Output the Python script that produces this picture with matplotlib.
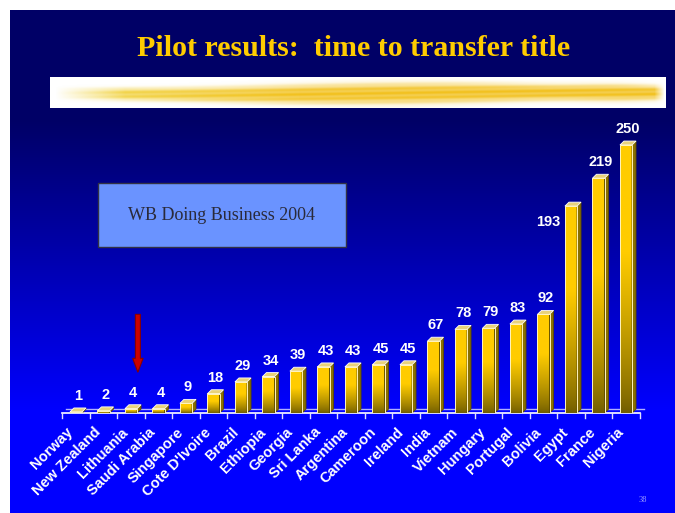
import numpy as np
import matplotlib
matplotlib.use("Agg")
import matplotlib.pyplot as plt
from matplotlib.patches import Rectangle, Polygon, FancyArrow

# data (days to transfer title)
countries = ["Norway", "New Zealand", "Lithuania", "Saudi Arabia", "Singapore",
             "Cote D'Ivoire", "Brazil", "Ethiopia", "Georgia", "Sri Lanka",
             "Argentina", "Cameroon", "Ireland", "India", "Vietnam", "Hungary",
             "Portugal", "Bolivia", "Egypt", "France", "Nigeria"]
days = [1, 2, 4, 4, 9, 18, 29, 34, 39, 43, 43, 45, 45, 67, 78, 79, 83, 92, 193, 219, 250]

title = "Pilot results:  time to transfer title"
box_text = "WB Doing Business 2004"
page_no = "38"

W, H = 675, 513
fig = plt.figure(figsize=(W / 100, H / 100), dpi=100)
fig.patch.set_facecolor("white")

# ---- slide background (pixel coords) ----
bg = fig.add_axes([0, 0, 1, 1])
bg.set_xlim(0, W)
bg.set_ylim(H, 0)
bg.axis("off")

rows = np.arange(10, H)
top_c = np.array([0, 0, 0x66]) / 255
bot_c = np.array([0, 0, 0xFF]) / 255
t = np.clip((rows - 120) / (410 - 120), 0, 1)[:, None]
grad = (top_c + (bot_c - top_c) * t)[:, None, :]
bg.imshow(grad, extent=(10, W, H, 10), aspect="auto", zorder=0)

bg.text(354, 48, title, color="#FFCC00", fontsize=21.5, fontweight="bold",
        family="Liberation Serif", ha="center", va="center", zorder=3)

# brush stroke under the title
bg.add_patch(Rectangle((50, 77), 616, 31, facecolor="white", edgecolor="none", zorder=1))
bx = np.arange(616)
by = np.arange(31)[:, None]
cy = 16 + 1.0 * np.sin(bx / 110.0)
thick = 5.5 + 4.5 * np.exp(-((bx - 340) / 180.0) ** 2) + 1.5 * np.exp(-((bx - 570) / 50.0) ** 2)
fade = np.clip((bx - 5) / 70.0, 0, 1) * np.clip((614 - bx) / 10.0, 0, 1)
alpha = np.exp(-np.abs((by - cy) / thick) ** 3) * fade
alpha *= 0.9 + 0.1 * np.sin(by * 1.3 + bx / 53.0)
brush = np.zeros((31, 616, 4))
brush[..., 0] = 0.95
brush[..., 1] = 0.76 + 0.08 * np.clip((250 - bx) / 200.0, 0, 1)
brush[..., 2] = 0.12 + 0.18 * np.clip((250 - bx) / 200.0, 0, 1)
brush[..., 3] = np.clip(alpha, 0, 1)
bg.imshow(brush, extent=(50, 666, 108, 77), aspect="auto", zorder=2, interpolation="bilinear")

# source box
bg.add_patch(Rectangle((98, 183), 248, 64, facecolor="#6A93FF", edgecolor="#333344",
                       lw=1, zorder=3))
bg.text(222, 215, box_text, color="#2A2A3A", fontsize=13, family="Liberation Serif",
        ha="center", va="center", zorder=4)

bg.text(643, 500, page_no, color="#9999FF", fontsize=6, family="Liberation Serif",
        ha="center", va="center")

# ---- chart ----
ax = fig.add_axes([62.25 / W, (H - 413) / H, 577.5 / W, 288 / H])
ax.set_facecolor("none")
for s in ax.spines.values():
    s.set_visible(False)
ax.set_xticks([])
ax.set_yticks([])

ymax = 288 / 1.072
bw = 0.44
dx, dy = 0.145, 3.7
yellow = np.array([1.0, 0.80, 0.0])
dark = np.array([0.45, 0.37, 0.0])

n = len(countries)
# floor
ax.plot([-0.5 + dx, n - 0.5 + dx], [dy, dy], color="#B0B0FF", lw=1, zorder=1, clip_on=False)
ax.plot([-0.5, n - 0.5], [0, 0], color="white", lw=1.2, zorder=1, clip_on=False)
for k in range(n + 1):
    ax.plot([k - 0.5, k - 0.5], [0, -4.7], color="#E0E0FF", lw=1, zorder=1, clip_on=False)

for i, v in enumerate(days):
    x0, x1 = i - bw / 2, i + bw / 2
    tt = np.linspace(0, 1, 64)
    s = np.clip(tt / 0.6, 0, 1) ** 0.8
    col = dark + (yellow - dark) * s[:, None]
    ax.imshow(col[::-1][:, None, :], extent=(x0, x1, 0, v), aspect="auto",
              zorder=3, interpolation="bilinear")
    ax.add_patch(Polygon([(x1, 0), (x1 + dx, dy), (x1 + dx, v + dy), (x1, v)],
                         closed=True, facecolor="#8A7000", edgecolor="#5A4800",
                         lw=0.6, zorder=3))
    ax.add_patch(Polygon([(x0, v), (x1, v), (x1 + dx, v + dy), (x0 + dx, v + dy)],
                         closed=True, facecolor="#E8D27A", edgecolor="white",
                         lw=0.6, zorder=4))
    ax.add_patch(Rectangle((x0, 0), bw, v, facecolor="none", edgecolor="#FFF4C0",
                           lw=0.7, zorder=4))
    if countries[i] == "Egypt":
        off, va = (-23, -20), "center"
    else:
        off, va = (2, 5), "bottom"
    ax.annotate(str(v), (i, v + dy), xytext=off, textcoords="offset pixels",
                color="white", fontsize=10.5, fontweight="bold", family="Liberation Sans",
                ha="center", va=va, zorder=5, annotation_clip=False)
    ax.annotate(countries[i], (i, 0), xytext=(-5, -17), textcoords="offset pixels",
                color="white", fontsize=10.5, fontweight="bold", family="Liberation Sans",
                rotation=45, rotation_mode="anchor", ha="right", va="center",
                annotation_clip=False)

# red arrow pointing at Lithuania
ax.add_patch(FancyArrow(2.25, 92, 0, -54, width=0.18, head_width=0.38,
                        head_length=13, length_includes_head=True,
                        facecolor="#CC0000", edgecolor="#880000", lw=0.8, zorder=5,
                        clip_on=False))

ax.set_xlim(-0.5, n - 0.5)
ax.set_ylim(0, ymax)

fig.savefig("out.png", dpi=100, facecolor=fig.get_facecolor())
